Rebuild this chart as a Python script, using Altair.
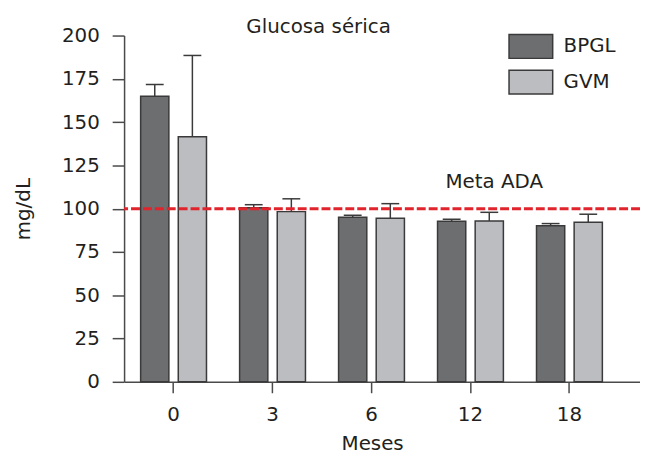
import altair as alt
import pandas as pd

meses = ["0", "3", "6", "12", "18"]
series = ["BPGL", "GVM"]
bpgl = [165.0, 100.6, 95.0, 92.8, 90.2]
bpgl_err = [6.7, 1.7, 1.2, 1.1, 1.2]
gvm = [141.5, 98.3, 94.5, 92.9, 92.1]
gvm_err = [47.0, 7.4, 8.4, 5.0, 4.7]
meta_ada = 100
meta_label = "Meta ADA"
colors = ["#6d6e70", "#bcbdc1"]

rows = []
for i, m in enumerate(meses):
    rows.append({"mes": m, "grupo": "BPGL", "valor": bpgl[i], "sup": bpgl[i] + bpgl_err[i]})
    rows.append({"mes": m, "grupo": "GVM", "valor": gvm[i], "sup": gvm[i] + gvm_err[i]})
df = pd.DataFrame(rows)

FONT = "DejaVu Sans"
TXT = "#231f20"
AX = "#4a4a4a"

x_scale = alt.Scale(domain=meses, paddingInner=0, paddingOuter=0.1065, align=0)
xo_scale = alt.Scale(domain=series, paddingInner=0.25, paddingOuter=0.44)

x_enc = alt.X("mes:N", scale=x_scale, sort=meses,
              axis=alt.Axis(title="Meses", labelAngle=0, tickSize=11, labelPadding=12,
                            titlePadding=9, titleX=250))
y_enc = alt.Y("valor:Q", scale=alt.Scale(domain=[0, 200], nice=False),
              axis=alt.Axis(title="mg/dL", values=list(range(0, 201, 25)), tickSize=12,
                            labelPadding=13, titlePadding=28))

base = alt.Chart(df)

bars = base.mark_bar(stroke="#3a3a3a", strokeWidth=1.5).encode(
    x=x_enc,
    xOffset=alt.XOffset("grupo:N", scale=xo_scale),
    y=y_enc,
    color=alt.Color("grupo:N", scale=alt.Scale(domain=series, range=colors),
                    legend=alt.Legend(title=None, orient="none", legendX=389, legendY=-10,
                                      symbolType="M-1.1,-0.6H1.1V0.6H-1.1Z", symbolSize=1600,
                                      symbolStrokeColor="#3a3a3a", symbolStrokeWidth=1.5,
                                      symbolOpacity=1,
                                      labelFont=FONT, labelFontSize=20, labelColor=TXT,
                                      labelOffset=12, rowPadding=0, padding=0, offset=0)),
)

whisk = base.mark_rule(color="#3a3a3a", strokeWidth=1.5).encode(
    x=alt.X("mes:N", scale=x_scale, sort=meses),
    xOffset=alt.XOffset("grupo:N", scale=xo_scale),
    y="valor:Q",
    y2="sup:Q",
)

caps = base.mark_tick(color="#3a3a3a", thickness=1.5, size=18, orient="horizontal", opacity=1).encode(
    x=alt.X("mes:N", scale=x_scale, sort=meses),
    xOffset=alt.XOffset("grupo:N", scale=xo_scale),
    y="sup:Q",
)

ref_df = pd.DataFrame({"y": [meta_ada], "mes": ["12"], "label": [meta_label]})
ref = alt.Chart(ref_df).mark_rule(color="#e1232b", strokeWidth=3, strokeDash=[9, 3]).encode(
    y="y:Q"
)
ref_text = alt.Chart(ref_df).mark_text(font=FONT, fontSize=20, color=TXT, dx=24, dy=-21,
                                       baseline="alphabetic", align="center").encode(
    x=alt.X("mes:N", scale=x_scale, sort=meses),
    y="y:Q",
    text="label:N",
)

chart = alt.layer(bars, whisk, caps, ref, ref_text).properties(
    width=520,
    height=349,
    title=alt.TitleParams("Glucosa sérica", font=FONT, fontSize=20, fontWeight="normal",
                          color=TXT, anchor="middle", dx=-64, offset=0, baseline="alphabetic",
                          dy=27),
    autosize=alt.AutoSizeParams(type="none"),
    padding={"left": 117, "top": 26, "right": 0, "bottom": 72},
).configure_view(stroke=None).configure_axis(
    grid=False, domainColor=AX, domainWidth=1.5, tickColor=AX, tickWidth=1.5,
    labelFont=FONT, labelFontSize=20, labelColor=TXT,
    titleFont=FONT, titleFontSize=20, titleColor=TXT, titleFontWeight="normal",
)

chart.save("out.html", embed_options={"renderer": "svg", "actions": False})
